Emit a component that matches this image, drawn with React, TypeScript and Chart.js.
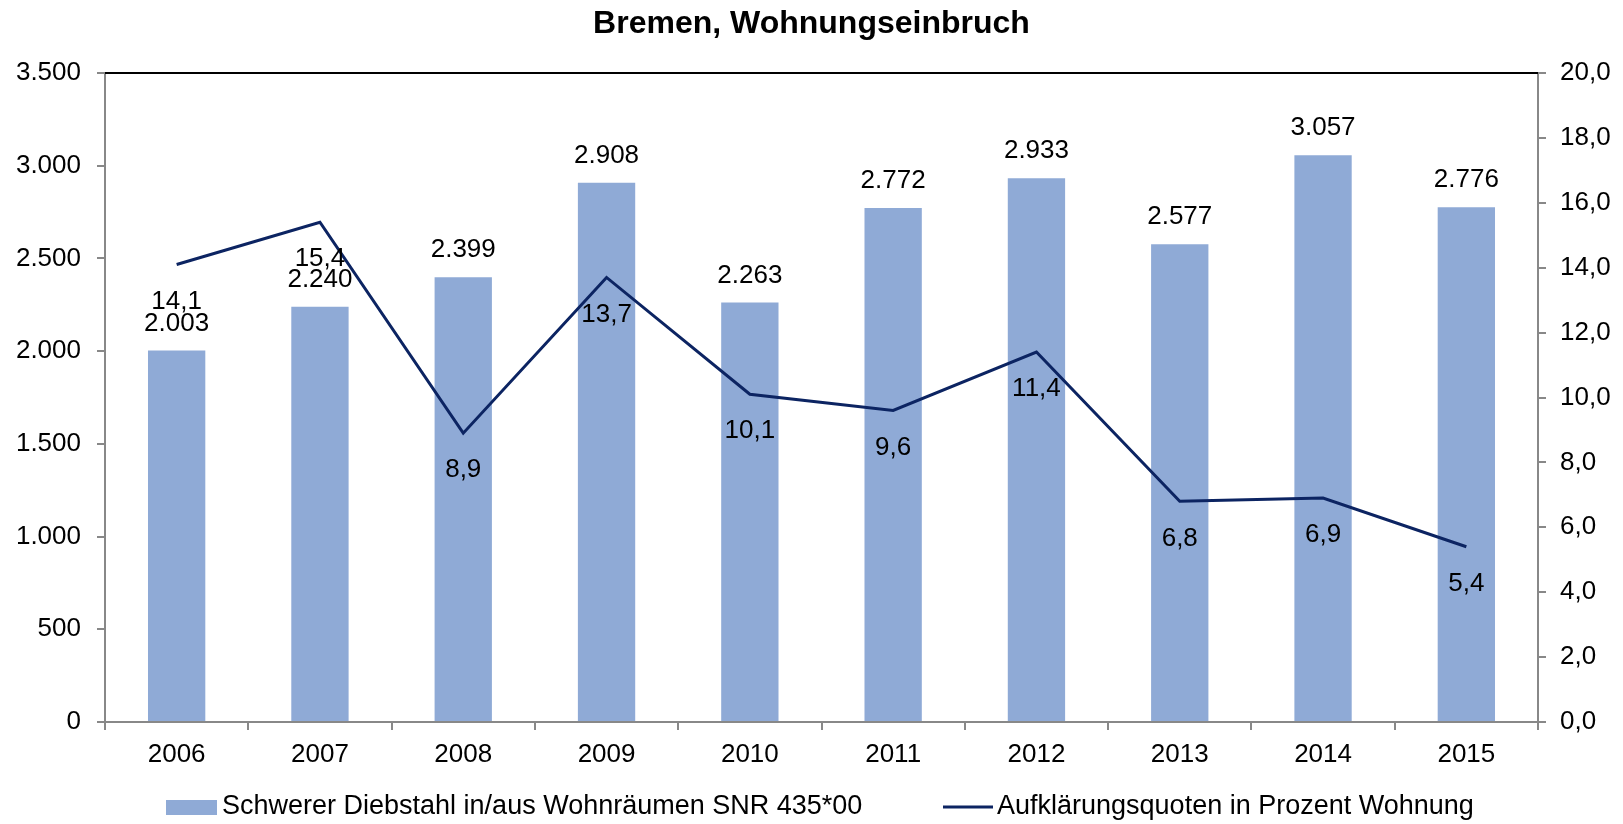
import React, { useEffect, useRef } from "react";
import { Chart, registerables } from "chart.js";

Chart.register(...registerables);

const years = ["2006", "2007", "2008", "2009", "2010", "2011", "2012", "2013", "2014", "2015"];
const burglaries = [2003, 2240, 2399, 2908, 2263, 2772, 2933, 2577, 3057, 2776];
const clearanceRates = [14.1, 15.4, 8.9, 13.7, 10.1, 9.6, 11.4, 6.8, 6.9, 5.4];
const titleText = "Bremen, Wohnungseinbruch";
const barLabel = "Schwerer Diebstahl in/aus Wohnräumen SNR 435*00";
const lineLabel = "Aufklärungsquoten in Prozent Wohnung";

const BAR_COLOR = "#8FAAD6";
const LINE_COLOR = "#0C2462";
const AXIS_COLOR = "#888888";
const FONT = "'Liberation Sans', Arial, sans-serif";
const FS = 26;

const fmtInt = (v: number) => v.toLocaleString("de-DE");
const fmtDec = (v: number) => v.toFixed(1).replace(".", ",");

const decorPlugin = {
  id: "decor",
  afterDatasetsDraw(chart: any) {
    const ctx = chart.ctx;
    const area = chart.chartArea;
    ctx.save();
    ctx.strokeStyle = "#000";
    ctx.lineWidth = 2;
    ctx.beginPath();
    ctx.moveTo(area.left, area.top);
    ctx.lineTo(area.right, area.top);
    ctx.stroke();

    ctx.font = `${FS}px ${FONT}`;
    ctx.fillStyle = "#000";
    ctx.textAlign = "center";
    ctx.textBaseline = "middle";
    const barMeta = chart.getDatasetMeta(1);
    barMeta.data.forEach((el: any, i: number) => {
      ctx.fillText(fmtInt(burglaries[i]), el.x, el.y - 27);
    });
    const lineMeta = chart.getDatasetMeta(0);
    lineMeta.data.forEach((el: any, i: number) => {
      ctx.fillText(fmtDec(clearanceRates[i]), el.x, el.y + 37);
    });

    ctx.font = `bold 32px ${FONT}`;
    ctx.fillText(titleText, chart.width / 2, 24);

    const ly = 807;
    ctx.fillStyle = BAR_COLOR;
    ctx.fillRect(166, ly - 7, 51, 15);
    ctx.fillStyle = "#000";
    ctx.textAlign = "left";
    ctx.font = `27px ${FONT}`;
    ctx.fillText(barLabel, 222, ly);
    ctx.strokeStyle = LINE_COLOR;
    ctx.lineWidth = 3;
    ctx.beginPath();
    ctx.moveTo(943, ly);
    ctx.lineTo(993, ly);
    ctx.stroke();
    ctx.fillText(lineLabel, 997, ly);
    ctx.restore();
  },
};

export default function App() {
  const ref = useRef<HTMLCanvasElement>(null);
  useEffect(() => {
    document.body.style.margin = "0";
    const chart = new Chart(ref.current!, {
      type: "bar",
      data: {
        labels: years,
        datasets: [
          {
            type: "line",
            label: lineLabel,
            data: clearanceRates,
            yAxisID: "y1",
            borderColor: LINE_COLOR,
            backgroundColor: LINE_COLOR,
            borderWidth: 3,
            pointRadius: 0,
            tension: 0,
            order: 0,
          } as any,
          {
            type: "bar",
            label: barLabel,
            data: burglaries,
            yAxisID: "y",
            backgroundColor: BAR_COLOR,
            categoryPercentage: 1,
            barPercentage: 0.4,
            order: 1,
          },
        ],
      },
      options: {
        responsive: false,
        animation: false,
        layout: { padding: { top: 73, bottom: 42, left: 0, right: 0 } },
        plugins: {
          legend: { display: false },
          title: { display: false },
          tooltip: { enabled: false },
        },
        scales: {
          x: {
            offset: true,
            grid: { display: true, drawOnChartArea: false, drawTicks: true, tickLength: 8, color: AXIS_COLOR, lineWidth: 2, offset: true },
            border: { color: AXIS_COLOR, width: 2 },
            ticks: { color: "#000", font: { size: FS, family: FONT }, padding: 9 },
            afterFit: (s: any) => { s.height = 60; },
          },
          y: {
            position: "left",
            min: 0,
            max: 3500,
            grid: { display: true, drawOnChartArea: false, drawTicks: true, tickLength: 8, color: AXIS_COLOR, lineWidth: 2 },
            border: { color: AXIS_COLOR, width: 2 },
            ticks: { stepSize: 500, color: "#000", font: { size: FS, family: FONT }, padding: 16, callback: (v: any) => fmtInt(Number(v)) },
            afterFit: (s: any) => { s.width = 105; },
          },
          y1: {
            position: "right",
            min: 0,
            max: 20,
            grid: { display: true, drawOnChartArea: false, drawTicks: true, tickLength: 8, color: AXIS_COLOR, lineWidth: 2 },
            border: { color: AXIS_COLOR, width: 2 },
            ticks: { stepSize: 2, color: "#000", font: { size: FS, family: FONT }, padding: 14, callback: (v: any) => fmtDec(Number(v)) },
            afterFit: (s: any) => { s.width = 85; },
          },
        },
      },
      plugins: [decorPlugin],
    });
    return () => chart.destroy();
  }, []);
  return (
    <div style={{ width: 1623, height: 824 }}>
      <canvas ref={ref} width={1623} height={824} style={{ display: "block" }} />
    </div>
  );
}
